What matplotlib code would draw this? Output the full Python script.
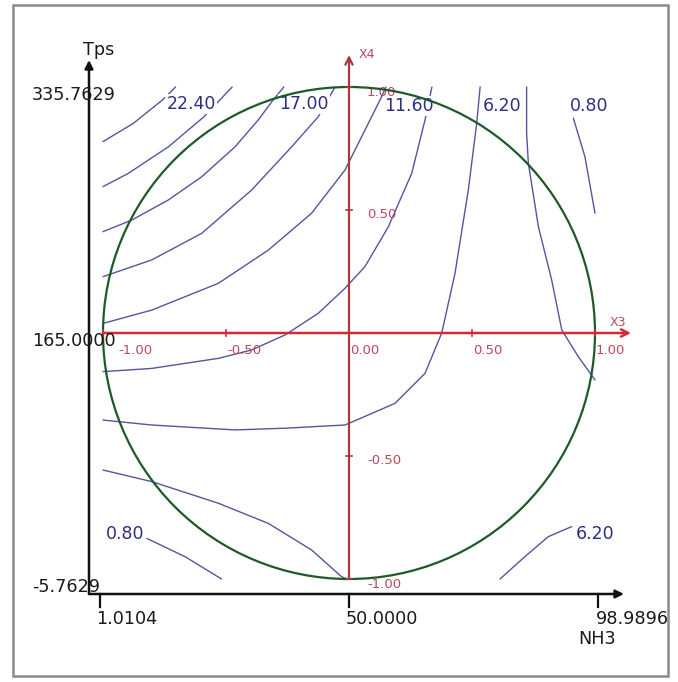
import matplotlib
matplotlib.use('Agg')
import matplotlib.pyplot as plt
from matplotlib.patches import Circle, Rectangle

# ---------------- data ----------------
# real-unit scales of the two factors (min, centre, max)
nh3_ticks = [1.0104, 50.0, 98.9896]
tps_ticks = [-5.7629, 165.0, 335.7629]
nh3_tick_labels = ['1.0104', '50.0000', '98.9896']
tps_tick_labels = ['335.7629', '165.0000', '-5.7629']

# coded axes X3 / X4
coded_ticks = [-1.0, -0.5, 0.0, 0.5, 1.0]
coded_tick_labels = ['-1.00', '-0.50', '0.00', '0.50', '1.00']

# iso-response curves (coded X3, X4)
iso_a_x = [-1.0, -0.877, -0.755, -0.705]
iso_a_y = [0.778, 0.852, 0.950, 1.0]
iso_b_x = [-1.0, -0.897, -0.734, -0.592, -0.475]
iso_b_y = [0.595, 0.649, 0.757, 0.877, 1.0]
iso_c_x = [-1.0, -0.883, -0.734, -0.599, -0.463, -0.369, -0.314, -0.265]
iso_c_y = [0.412, 0.459, 0.541, 0.635, 0.757, 0.866, 0.940, 1.0]
iso_d_x = [-1.0, -0.802, -0.599, -0.396, -0.233, -0.125, -0.057]
iso_d_y = [0.229, 0.297, 0.405, 0.581, 0.757, 0.879, 1.0]
iso_e_x = [-1.0, -0.802, -0.531, -0.328, -0.152, -0.016, 0.065, 0.126, 0.150]
iso_e_y = [0.039, 0.093, 0.202, 0.337, 0.487, 0.663, 0.825, 0.947, 1.0]
iso_f_x = [-1.0, -0.802, -0.531, -0.396, -0.260, -0.125, -0.016, 0.065, 0.160, 0.255, 0.309, 0.337]
iso_f_y = [-0.157, -0.144, -0.103, -0.069, -0.008, 0.080, 0.182, 0.270, 0.432, 0.649, 0.866, 1.0]
iso_g_x = [-1.0, -0.802, -0.463, -0.260, -0.016, 0.187, 0.309, 0.377, 0.431, 0.485, 0.519, 0.533]
iso_g_y = [-0.354, -0.374, -0.394, -0.387, -0.374, -0.286, -0.164, 0.0, 0.243, 0.581, 0.852, 1.0]
iso_h_x = [0.722, 0.722, 0.729, 0.770, 0.824, 0.865, 0.932, 1.0]
iso_h_y = [1.0, 0.813, 0.690, 0.432, 0.215, 0.012, -0.096, -0.191]
iso_j_x = [0.912, 0.959, 1.0]
iso_j_y = [0.873, 0.717, 0.487]
iso_k_x = [-1.0, -0.802, -0.531, -0.328, -0.152, -0.030, -0.008]
iso_k_y = [-0.557, -0.604, -0.692, -0.774, -0.882, -0.991, -1.0]
iso_l_x = [-0.822, -0.667, -0.518]
iso_l_y = [-0.835, -0.909, -1.0]
iso_m_x = [0.614, 0.715, 0.810, 0.905]
iso_m_y = [-1.0, -0.909, -0.828, -0.787]

iso_labels = ['22.40', '17.00', '11.60', '6.20', '0.80', '0.80', '6.20']

# ---------------- styling / layout ----------------
W, H = 678, 682
CX, CY, R = 349.0, 333.0, 246.0      # pixel centre and radius of the unit circle


def px(x, y):
    """pixel position -> coded data coordinates (only for layout of text)"""
    return (x - CX) / R, (CY - y) / R


fig = plt.figure(figsize=(W / 100, H / 100), dpi=100)
ax = fig.add_axes([0, 0, 1, 1])
ax.set_xlim(-CX / R, (W - CX) / R)
ax.set_ylim((CY - H) / R, CY / R)
ax.axis('off')

# outer frame
fig.patches.append(Rectangle((13 / W, 1 - 676 / H), (668 - 13) / W, (676 - 5) / H,
                             transform=fig.transFigure, fill=False,
                             ec='#8a8a8a', lw=1.8))

line_col = '#55559e'
iso_lines = [(iso_a_x, iso_a_y), (iso_b_x, iso_b_y), (iso_c_x, iso_c_y),
             (iso_d_x, iso_d_y), (iso_e_x, iso_e_y), (iso_f_x, iso_f_y),
             (iso_g_x, iso_g_y), (iso_h_x, iso_h_y), (iso_j_x, iso_j_y),
             (iso_k_x, iso_k_y), (iso_l_x, iso_l_y), (iso_m_x, iso_m_y)]
for xs, ys in iso_lines:
    ax.plot(xs, ys, color=line_col, lw=1.0, zorder=2,
            solid_capstyle='round', solid_joinstyle='round')

label_px = [(191, 104), (304, 104), (409, 106), (502.5, 106), (589.5, 106),
            (125.5, 534), (595.5, 534)]
for txt, (lx, ly) in zip(iso_labels, label_px):
    x, y = px(lx, ly)
    ax.text(x, y, txt, color='#2e2e86', fontsize=12.5, ha='center', va='center',
            zorder=3, bbox=dict(facecolor='white', edgecolor='none', pad=0.6))

# circle of the experimental domain
ax.add_patch(Circle((0, 0), 1.0, fill=False, ec='#1e5a28', lw=1.6, zorder=4))

# red coded axes
red_h = '#d42a32'
red_v = '#a63c3c'
red_txt = '#b94a5c'
ax.annotate('', xy=(px(631, 0)[0], 0), xytext=(-1.0, 0),
            arrowprops=dict(arrowstyle='->', color=red_h, lw=1.8,
                            mutation_scale=13, shrinkA=0, shrinkB=0), zorder=5)
ax.annotate('', xy=(0, px(0, 55)[1]), xytext=(0, -1.0),
            arrowprops=dict(arrowstyle='->', color=red_v, lw=1.6,
                            mutation_scale=13, shrinkA=0, shrinkB=0), zorder=5)
tk = 3 / R
for t, lab in zip(coded_ticks, coded_tick_labels):
    ax.plot([t, t], [-tk, tk], color=red_h, lw=1.2, zorder=5)
    ax.plot([-tk, tk], [t, t], color=red_v, lw=1.2, zorder=5)
    shift = 15 / R if t == -1.0 else 1 / R
    ax.text(t + shift, -18 / R, lab, color=red_txt, fontsize=9.5,
            ha='left', va='center', zorder=2.5)
    if t != 0:
        ax.text(18 / R, t - 5 / R, lab, color=red_txt, fontsize=9.5,
                ha='left', va='center', zorder=2.5)
ax.text(*px(610, 322), 'X3', color=red_txt, fontsize=9, ha='left', va='center')
ax.text(*px(359, 55), 'X4', color=red_txt, fontsize=9, ha='left', va='center')

# black real-unit axes
axis_x, axis_y = px(89, 594)
ax.annotate('', xy=(px(624, 0)[0], axis_y), xytext=(axis_x, axis_y),
            arrowprops=dict(arrowstyle='-|>', color='#111111', lw=1.8,
                            mutation_scale=12, shrinkA=0, shrinkB=0), zorder=5)
ax.annotate('', xy=(axis_x, px(0, 60)[1]), xytext=(axis_x, axis_y),
            arrowprops=dict(arrowstyle='-|>', color='#111111', lw=1.8,
                            mutation_scale=12, shrinkA=0, shrinkB=0), zorder=5)

stretch = 1.014
for v, lab in zip(nh3_ticks, nh3_tick_labels):
    c = (v - nh3_ticks[1]) / (nh3_ticks[2] - nh3_ticks[1]) * stretch
    ax.plot([c, c], [axis_y, axis_y - 13 / R], color='#111111', lw=1.6, zorder=5)
    ax.text(c - 3 / R, px(0, 619)[1], lab, color='#1a1a1a', fontsize=12.7,
            ha='left', va='center')

for v, lab in zip(sorted(tps_ticks, reverse=True), tps_tick_labels):
    c = (v - tps_ticks[1]) / (tps_ticks[2] - tps_ticks[1])
    ax.text(px(32, 0)[0], c - 8 / R, lab, color='#1a1a1a', fontsize=12.7,
            ha='left', va='center', zorder=6)

ax.text(*px(99, 50), 'Tps', color='#1a1a1a', fontsize=12.7, ha='center', va='center')
ax.text(*px(597, 639), 'NH3', color='#1a1a1a', fontsize=12.7, ha='center', va='center')

fig.savefig('out.png', dpi=100, facecolor='white')
